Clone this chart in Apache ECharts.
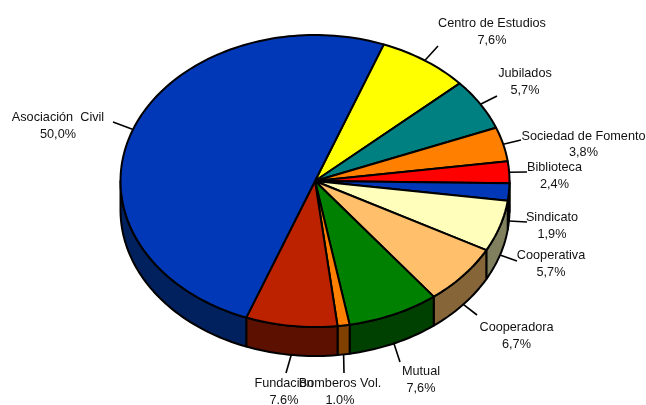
<!DOCTYPE html>
<html><head><meta charset="utf-8">
<style>html,body{margin:0;padding:0;background:#fff}#c{width:646px;height:405px}</style>
<script src="https://cdn.jsdelivr.net/npm/echarts@6/dist/echarts.min.js"></script>
</head><body><div id="c"></div>
<script>
// Data, clockwise from the top-right edge of the large slice
const categories = ['Centro de Estudios','Jubilados','Sociedad de Fomento','Biblioteca','Sindicato','Cooperativa','Cooperadora','Mutual','Bomberos Vol.','Fundación','Asociación  Civil'];
const percentLabels = ['7,6%','5,7%','3,8%','2,4%','1,9%','5,7%','6,7%','7,6%','1.0%','7.6%','50,0%'];
const percentValues = [7.6,5.7,3.8,2.4,1.9,5.7,6.7,7.6,1.0,7.6,50.0];
const topColors = ['#FFFF00','#008080','#FF8000','#FF0000','#0038B8','#FFFFBB','#FFBF6B','#008000','#FF8000','#BC2200','#0038B8'];
const sideColors = ['#808000','#004040','#804000','#800000','#001C5C','#80805E','#866638','#004000','#804000','#5C1000','#00205E'];

// Layout
const C = {x:315, y:181, rx:194.5, ry:146, depth:29, start:20.7};
const labelAt = [[492,32],[525,82],[583.5,144.5],[554.5,176],[552,226],[551,264],[516.5,336],[421,380],[340,392],[284,392],[58,126]];
const leaderEnd = [[438,46],[497,96],[521,140],[527,172],[527,222],[517,261],[477,315],[400,362],[344,373],[286,373],[113,122]];
const font = '12.7px "Liberation Sans", Arial, sans-serif';

const spans = (() => { let a = C.start; return percentValues.map(v => { const s = a; a += v * 3.6; return [s, a]; }); })();
const rim = (deg, dy = 0) => { const t = deg * Math.PI / 180; return [C.x + C.rx * Math.sin(t), C.y - C.ry * Math.cos(t) + dy]; };
const arc = (a, b, dy = 0) => { const n = Math.max(2, Math.ceil((b - a) / 1.5)), p = []; for (let i = 0; i <= n; i++) p.push(rim(a + (b - a) * i / n, dy)); return p; };
const ink = {stroke:'#000', lineWidth:2, lineJoin:'round'};

const seriesData = categories.map((_, i) => i);
const option = {
  animation:false,
  series:[
    {type:'custom', coordinateSystem:'none', silent:true, z:1, data:seriesData,
     renderItem(p){
       const [s,e] = spans[p.dataIndex];
       const a = Math.max(s, 90), b = Math.min(e, 270);
       if (b <= a) return {type:'group', children:[]};
       const points = arc(a,b).concat(arc(a,b,C.depth).reverse());
       return {type:'polygon', shape:{points}, style:Object.assign({fill:sideColors[p.dataIndex]}, ink)};
     }},
    {type:'custom', coordinateSystem:'none', silent:true, z:2, data:seriesData,
     renderItem(p){
       const [s,e] = spans[p.dataIndex];
       const points = [[C.x,C.y]].concat(arc(s,e));
       return {type:'polygon', shape:{points}, style:Object.assign({fill:topColors[p.dataIndex]}, ink)};
     }},
    {type:'custom', coordinateSystem:'none', silent:true, z:3, data:seriesData,
     renderItem(p){
       const i = p.dataIndex, [s,e] = spans[i], m = (s+e)/2 % 360;
       const visibleSide = m > 90 && m < 270;
       const from = rim(m, visibleSide ? C.depth : 0), to = leaderEnd[i];
       return {type:'group', children:[
         {type:'line', shape:{x1:from[0],y1:from[1],x2:to[0],y2:to[1]}, style:{stroke:'#000',lineWidth:1.6}},
         {type:'text', style:{text:categories[i]+'\n'+percentLabels[i], x:labelAt[i][0], y:labelAt[i][1], align:'center', verticalAlign:'middle', font, lineHeight:16.5, fill:'#111'}}
       ]};
     }}
  ]
};
echarts.init(document.getElementById('c'), null, {renderer:'canvas'}).setOption(option);
</script></body></html>
